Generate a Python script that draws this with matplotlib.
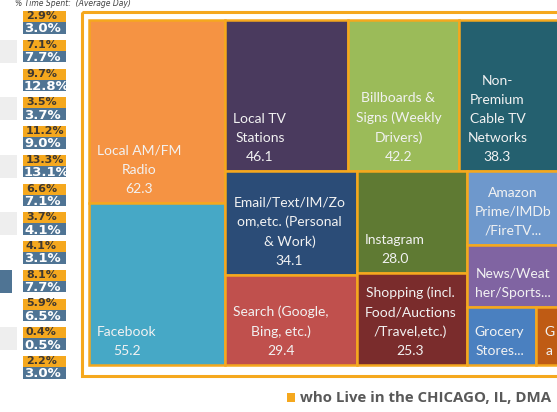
import matplotlib
matplotlib.use("Agg")
import matplotlib.pyplot as plt
from matplotlib.patches import Rectangle

# treemap tiles (minutes, average day)
names = [
    "Local AM/FM\nRadio",
    "Facebook",
    "Local TV\nStations",
    "Email/Text/IM/Zo\nom,etc. (Personal\n& Work)",
    "Search (Google,\nBing, etc.)",
    "Billboards &\nSigns (Weekly\nDrivers)",
    "Instagram",
    "Shopping (incl.\nFood/Auctions\n/Travel,etc.)",
    "Non-\nPremium\nCable TV\nNetworks",
    "Amazon\nPrime/IMDb\n/FireTV...",
    "News/Weat\nher/Sports...",
    "Grocery\nStores...",
    "G\na",
]
minutes = [62.3, 55.2, 46.1, 34.1, 29.4, 42.2, 28.0, 25.3, 38.3, 17.3, 14.6, 10.1, 3.6]
show_value = [True] * 9 + [False] * 4
tile_colors = [
    "#F59343", "#46A8C6", "#4A3A5E", "#2B4C77", "#C0504D", "#9BBB59", "#5F7A33",
    "#7A2C2C", "#24606F", "#6E98CC", "#8064A2", "#4A80C0", "#BF5B14",
]
# how the tiles nest (slice and dice, alternating direction)
tree = [[0, 1], [[2, 5, 8], [[3, 4], [6, 7], [9, 10, [11, 12]]]]]

# % time spent table on the left
pct_market = [2.9, 7.1, 9.7, 3.5, 11.2, 13.3, 6.6, 3.7, 4.1, 8.1, 5.9, 0.4, 2.2]
pct_all = [3.0, 7.7, 12.8, 3.7, 9.0, 13.1, 7.1, 4.1, 3.1, 7.7, 6.5, 0.5, 3.0]
# bars of the neighbouring chart cut off at the left edge
side_bars = [0, 17, 0, 17, 0, 17, 0, 17, 0, 12, 0, 17, 0]
side_colors = ["#EEEEEE"] * 9 + ["#4F7494"] + ["#EEEEEE"] * 3

ORANGE = "#F5A81E"
BLUE = "#4F7494"


def total(node):
    if isinstance(node, int):
        return minutes[node]
    return sum(total(c) for c in node)


rects = {}


def layout(node, x, y, w, h, horizontal):
    if isinstance(node, int):
        rects[node] = (x, y, w, h)
        return
    s = total(node)
    off = 0.0
    for child in node:
        f = total(child) / s
        if horizontal:
            layout(child, x + off * w, y, f * w, h, not horizontal)
        else:
            layout(child, x, y + off * h, w, f * h, not horizontal)
        off += f


layout(tree, 89, 20, 472, 345, True)

fig = plt.figure(figsize=(5.57, 4.12), dpi=100)
ax = fig.add_axes([0, 0, 1, 1])
ax.set_xlim(0, 557)
ax.set_ylim(412, 0)
ax.axis("off")

# outer frame
ax.add_patch(Rectangle((81.5, 11.5), 600, 364, fill=False, edgecolor=ORANGE, lw=2.2))

for i, (x, y, w, h) in rects.items():
    ax.add_patch(Rectangle((x, y), w, h, facecolor=tile_colors[i], edgecolor=ORANGE, lw=1.8))
    label = names[i]
    if show_value[i]:
        label += "\n%.1f" % minutes[i]
    ax.text(x + 8, y + h - 8, label, ha="left", va="bottom", multialignment="center",
            color="#F2F2F2", fontsize=10, family="Lato", linespacing=1.7)

# legend
ax.add_patch(Rectangle((287, 393), 8, 9, facecolor=ORANGE, edgecolor="none"))
ax.text(300, 397.5, "who Live in the CHICAGO, IL, DMA", ha="left", va="center",
        color="#595959", fontsize=10.8, family="Open Sans", fontweight="bold")

# left table
ax2 = fig.add_axes([0, 0, 66 / 557, 1])
ax2.set_xlim(0, 66)
ax2.set_ylim(412, 0)
ax2.axis("off")
for i in range(len(pct_market)):
    top = 11 + i * 28.75
    if side_bars[i]:
        ax2.add_patch(Rectangle((0, top), side_bars[i], 23, facecolor=side_colors[i], edgecolor="none"))
    ax2.add_patch(Rectangle((23, top), 50, 11, facecolor=ORANGE, edgecolor="none"))
    ax2.add_patch(Rectangle((23, top + 11), 50, 11.5, facecolor=BLUE, edgecolor="none"))
    ax2.text(26, top + 5, "%.1f%%" % pct_market[i], ha="left", va="center",
             color="#3F3830", fontsize=8, fontweight="bold", clip_on=True)
    ax2.text(24, top + 17.8, "%.1f%%" % pct_all[i], ha="left", va="center",
             color="white", fontsize=9.5, fontweight="bold", clip_on=True)

ax.text(15, 3.5, "% Time Spent:  (Average Day)", ha="left", va="center",
        color="#404040", fontsize=5.5, style="italic")

fig.savefig("out.png", dpi=100)
